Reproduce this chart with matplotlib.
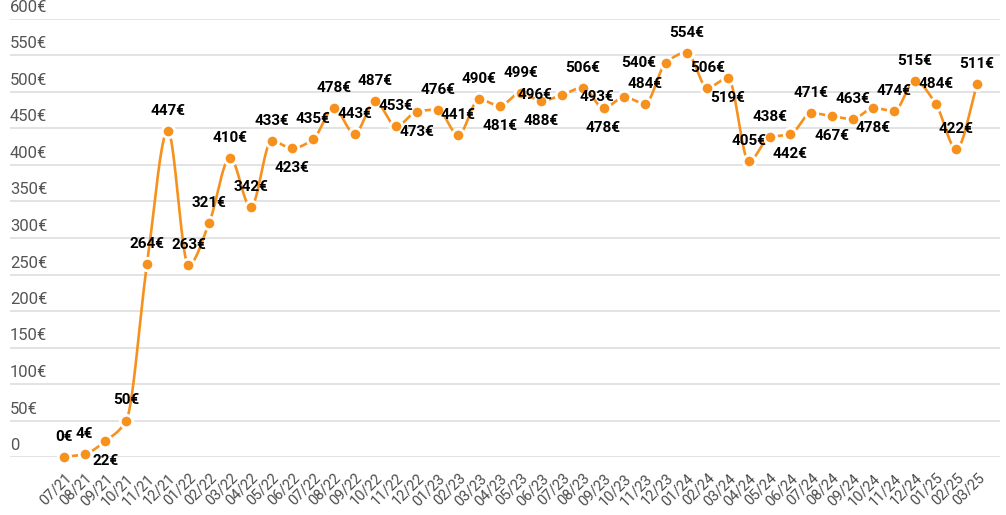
import numpy as np
import matplotlib
matplotlib.use("Agg")
import matplotlib.pyplot as plt
from matplotlib.transforms import blended_transform_factory

months = ["07/21", "08/21", "09/21", "10/21", "11/21", "12/21",
          "01/22", "02/22", "03/22", "04/22", "05/22", "06/22", "07/22", "08/22", "09/22", "10/22", "11/22", "12/22",
          "01/23", "02/23", "03/23", "04/23", "05/23", "06/23", "07/23", "08/23", "09/23", "10/23", "11/23", "12/23",
          "01/24", "02/24", "03/24", "04/24", "05/24", "06/24", "07/24", "08/24", "09/24", "10/24", "11/24", "12/24",
          "01/25", "02/25", "03/25"]
values = [0, 4, 22, 50, 264, 447,
          263, 321, 410, 342, 433, 423, 435, 478, 443, 487, 453, 473,
          476, 441, 490, 481, 499, 488, 496, 506, 478, 493, 484, 540,
          554, 506, 519, 405, 438, 442, 471, 467, 463, 478, 474, 515,
          484, 422, 511]
y_ticks = [0, 50, 100, 150, 200, 250, 300, 350, 400, 450, 500, 550, 600]

# label placement (style only): above by default
below_idx = {2, 11, 17, 21, 23, 26, 32, 35, 37, 39}
left_idx = {24, 27, 29}

COLOR = "#f7911e"

def pchip(x, y, xs):
    x = np.asarray(x, float); y = np.asarray(y, float)
    h = np.diff(x); d = np.diff(y) / h
    n = len(x)
    m = np.zeros(n)
    for k in range(1, n - 1):
        if d[k - 1] * d[k] <= 0:
            m[k] = 0
        else:
            w1 = 2 * h[k] + h[k - 1]; w2 = h[k] + 2 * h[k - 1]
            m[k] = (w1 + w2) / (w1 / d[k - 1] + w2 / d[k])
    m[0] = d[0]; m[-1] = d[-1]
    idx = np.clip(np.searchsorted(x, xs) - 1, 0, n - 2)
    t = (xs - x[idx]) / h[idx]
    h00 = 2 * t**3 - 3 * t**2 + 1; h10 = t**3 - 2 * t**2 + t
    h01 = -2 * t**3 + 3 * t**2; h11 = t**3 - t**2
    return h00 * y[idx] + h10 * h[idx] * m[idx] + h01 * y[idx + 1] + h11 * h[idx] * m[idx + 1]

fig = plt.figure(figsize=(10.06, 5.15), dpi=100)
ax = fig.add_axes([10 / 1006, (515 - 457) / 515, 990 / 1006, (457 - 19) / 515])

x = np.arange(len(values))
ax.set_xlim(-2.6, 45.1)
ax.set_ylim(0, 600)

for t in y_ticks:
    ax.axhline(t, color="#e0e0e0", lw=1.3, zorder=0)
trans = blended_transform_factory(ax.transAxes, ax.transData)
for t in y_ticks:
    lab = "0" if t == 0 else f"{t}€"
    ax.annotate(lab, (0, t), xycoords=trans, xytext=(0, 4), textcoords="offset pixels",
                ha="left", va="bottom", fontsize=12, color="#555555", family="Roboto")

xs = np.linspace(0, len(values) - 1, 2000)
ax.plot(xs, pchip(x, values, xs), color=COLOR, lw=1.9, zorder=2, clip_on=False)
ax.plot(x, values, "o", color=COLOR, ms=9, mec="white", mew=2, zorder=3, clip_on=False)

for i, v in enumerate(values):
    if i in left_idx:
        off = (-27, 0)
    elif i in below_idx:
        off = (0, -20)
    else:
        off = (0, 20)
    ax.annotate(f"{v}€", (i, v), xytext=off, textcoords="offset pixels",
                ha="center", va="center", fontsize=11, fontweight="bold", color="black",
                family="Roboto", zorder=4)

ax.set_xticks(x)
ax.set_xticklabels(months, rotation=45, ha="right", rotation_mode="anchor",
                   fontsize=10.5, color="#4a4a4a", family="Roboto")
ax.tick_params(axis="x", length=0, pad=10)
ax.set_yticks([])
for s in ax.spines.values():
    s.set_visible(False)

fig.savefig("out.png", dpi=100)
